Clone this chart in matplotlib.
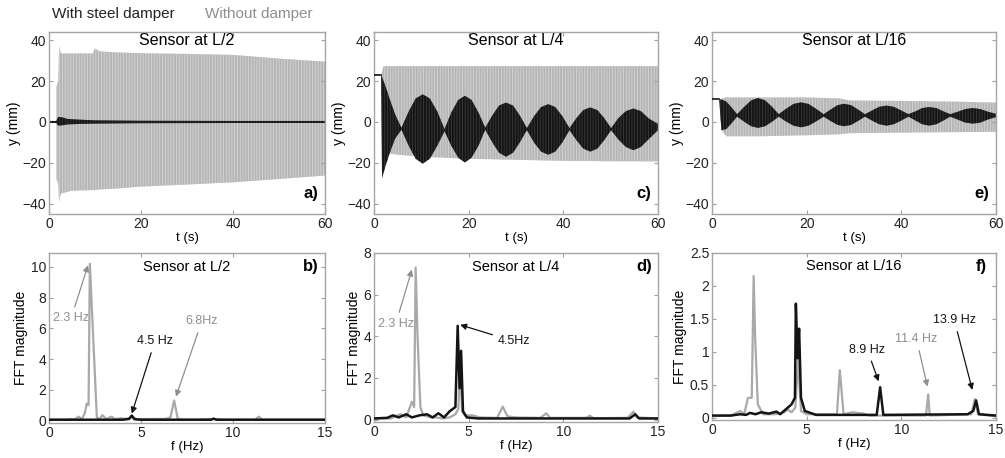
import matplotlib
matplotlib.use("Agg")
import matplotlib.pyplot as plt

plt.rcParams['font.family'] = ['Liberation Sans', 'DejaVu Sans']
plt.rcParams['hatch.linewidth'] = 0.6

GRAY = '#a9a9a9'
GRAY_TXT = '#8f8f8f'
BLACK = '#141414'

# ---- time-domain envelopes (t in s, y in mm) ----
# a) sensor at L/2
a_gray_t = [1.6, 1.6, 2.0, 2.2, 2.6, 5, 9.5, 10, 11, 15, 20, 30, 40, 50, 60]
a_gray_hi = [0, 17, 20, 37, 33.5, 33.5, 33.5, 36, 34.5, 34, 33.6, 33.3, 32.8, 31, 29.5]
a_gray_lo = [0, -28, -30, -39, -35, -33.6, -33.3, -33.3, -33, -32.5, -31.6, -30.6, -29.5, -27.9, -26.2]
a_blk_t = [0, 1.6, 2.0, 3.0, 4.0, 6, 10, 20, 40, 60]
a_blk_hi = [0.5, 0.5, 2.5, 2.2, 1.5, 1.2, 0.8, 0.6, 0.5, 0.5]
a_blk_lo = [-0.5, -0.5, -1.8, -1.6, -1.2, -1.0, -0.8, -0.6, -0.5, -0.5]

# c) sensor at L/4
c_start_t = [0, 1.5]
c_start_y = [23, 23]
c_gray_t = [1.5, 2.0, 5, 10, 20, 30, 40, 50, 60]
c_gray_hi = [23, 27.3, 27.3, 27.3, 27.3, 27.3, 27.3, 27.3, 27.3]
c_gray_lo = [23, -15, -16, -17, -18, -18.5, -19, -19.2, -19.3]
c_blk_t = [1.5, 1.7, 2.5, 3.5, 4.5, 5.8,
           7.3, 8.8, 10.3, 11.8, 13.4, 14.9,
           16.3, 17.8, 19.2, 20.6, 22.1, 23.5,
           25.0, 26.4, 27.9, 29.4, 30.8, 32.3,
           33.8, 35.3, 36.8, 38.3, 39.8, 41.3,
           42.8, 44.2, 45.7, 47.2, 48.6, 50.1,
           51.6, 53.2, 54.8, 56.4, 58.0, 60.0]
c_blk_hi = [23, 22, 17, 10, 3.5, -2.8,
            5, 11.5, 13.5, 11.5, 5, -3.5,
            4.5, 10.8, 12.8, 10.8, 4.5, -2.8,
            3.2, 8, 9.5, 8, 3.2, -3,
            2.8, 7.3, 8.7, 7.3, 2.8, -3,
            2, 5.8, 7.1, 5.8, 2, -3,
            1.8, 5.3, 6.6, 5.3, 1.8, -1]
c_blk_lo = [23, -27.5, -21, -14, -8, -3.8,
            -11.5, -18, -20.4, -18, -11.5, -4.5,
            -11.5, -17.5, -19.8, -17.5, -11.5, -3.8,
            -10, -15, -17, -15, -10, -4,
            -10, -14.5, -16, -14.5, -10, -4,
            -9, -13, -14.5, -13, -9, -4,
            -8.5, -12.2, -13.8, -12.2, -8.5, -4]

# e) sensor at L/16
e_start_t = [0, 1.5]
e_start_y = [11, 11]
e_gray_t = [2, 3, 10, 20, 27, 29, 40, 50, 60]
e_gray_hi = [11.5, 12, 12, 12, 11.5, 10.5, 10.3, 10, 9.5]
e_gray_lo = [-4, -7, -7, -6.5, -6, -5.5, -5.2, -5, -4.8]
e_blk_t = [1.5, 2.0, 3.0, 4.0, 5.3,
           6.8, 8.3, 9.7, 11.2, 12.7, 14.1,
           15.6, 17.2, 18.8, 20.4, 22.0, 23.6,
           25.0, 26.5, 27.9, 29.4, 30.9, 32.3,
           33.8, 35.3, 36.9, 38.4, 40.0, 41.5,
           43.0, 44.4, 45.9, 47.4, 48.9, 50.3,
           51.9, 53.5, 55.1, 56.7, 58.3, 60.0]
e_blk_hi = [11, 11, 10, 7.5, 3.8,
            7.4, 10.6, 11.7, 10.6, 7.4, 3.8,
            6.4, 8.8, 9.6, 8.8, 6.4, 3.8,
            6.0, 8.2, 8.9, 8.2, 6.0, 3.8,
            5.6, 7.4, 8.0, 7.4, 5.6, 3.8,
            5.2, 6.8, 7.3, 6.8, 5.2, 3.8,
            5.0, 6.3, 6.8, 6.3, 5.0, 4.0]
e_blk_lo = [11, -4, -3.5, -1, 2.6,
            0.15, -2.1, -2.9, -2.1, 0.15, 2.6,
            0.3, -1.8, -2.6, -1.8, 0.3, 2.6,
            0.55, -1.4, -2.1, -1.4, 0.55, 2.6,
            0.7, -1.1, -1.8, -1.1, 0.7, 2.6,
            0.7, -1.1, -1.8, -1.1, 0.7, 2.6,
            1.2, -0.3, -0.8, -0.3, 1.2, 2.4]

# ---- FFT spectra (f in Hz) ----
b_gray_f = [0, 1.0, 1.2, 1.4, 1.6, 1.8, 1.95, 2.05, 2.15, 2.22, 2.6, 2.75, 2.9, 3.1, 3.4,
            3.6, 3.9, 4.2, 4.5, 4.8, 5.5, 6.3, 6.6, 6.8, 7.0, 7.3, 8.0, 8.9, 9.5, 11.2,
            11.4, 11.6, 13, 15]
b_gray_m = [0.05, 0.05, 0.1, 0.05, 0.25, 0.1, 0.5, 1.1, 1.0, 10.2, 0.2, 0.1, 0.35, 0.1, 0.25,
            0.08, 0.15, 0.1, 0.2, 0.08, 0.1, 0.1, 0.2, 1.3, 0.1, 0.05, 0.05, 0.1, 0.05, 0.05,
            0.25, 0.05, 0.05, 0.05]
b_blk_f = [0, 4.0, 4.35, 4.5, 4.65, 5.0, 8.8, 8.95, 9.1, 15]
b_blk_m = [0.05, 0.05, 0.1, 0.32, 0.08, 0.05, 0.05, 0.12, 0.05, 0.05]

d_gray_f = [0, 0.9, 1.1, 1.4, 1.7, 2.0, 2.12, 2.2, 2.3, 2.45, 2.6, 2.8, 3.0, 3.3, 3.6,
            4.0, 4.3, 4.45, 4.55, 4.65, 4.8, 5.2, 5.6, 6.5, 6.8, 7.05, 7.5, 8.8, 9.1, 9.3,
            11.2, 11.4, 11.6, 13.4, 13.7, 13.9, 15]
d_gray_m = [0.05, 0.05, 0.15, 0.25, 0.1, 0.85, 0.6, 7.3, 4.0, 0.6, 0.2, 0.15, 0.1, 0.1, 0.05,
            0.1, 0.25, 0.5, 2.5, 0.4, 0.2, 0.2, 0.1, 0.08, 0.62, 0.15, 0.1, 0.08, 0.3, 0.08,
            0.08, 0.18, 0.06, 0.08, 0.38, 0.1, 0.05]
d_blk_f = [0, 0.7, 1.0, 1.3, 1.7, 2.0, 2.4, 2.8, 3.1, 3.4, 3.7, 4.0, 4.3, 4.42, 4.52,
           4.6, 4.7, 4.9, 5.5, 13.5, 13.8, 14.0, 15]
d_blk_m = [0.05, 0.08, 0.2, 0.1, 0.25, 0.1, 0.2, 0.25, 0.1, 0.3, 0.1, 0.4, 0.6, 4.5, 1.5,
           3.3, 0.4, 0.1, 0.05, 0.05, 0.25, 0.05, 0.05]

f_gray_f = [0, 1.0, 1.5, 1.7, 1.9, 2.1, 2.2, 2.28, 2.42, 2.7, 3.3, 3.8, 4.0, 4.2, 4.4,
            4.55, 4.7, 5.0, 6.6, 6.75, 6.95, 7.4, 8.0, 8.3, 11.3, 11.42, 11.5, 13.7, 13.88, 14.05,
            15]
f_gray_m = [0.02, 0.03, 0.1, 0.05, 0.3, 0.3, 2.15, 1.2, 0.2, 0.05, 0.05, 0.08, 0.12, 0.08, 0.15,
            0.88, 0.1, 0.05, 0.05, 0.72, 0.05, 0.08, 0.06, 0.03, 0.03, 0.35, 0.03, 0.05, 0.28, 0.05,
            0.02]
f_blk_f = [0, 1.0, 1.5, 1.8, 2.0, 2.3, 2.6, 3.0, 3.4, 3.6, 3.8, 4.2, 4.38, 4.43, 4.52,
           4.6, 4.7, 4.9, 5.5, 8.7, 8.88, 9.05, 13.5, 13.8, 13.95, 14.1, 15]
f_blk_m = [0.03, 0.03, 0.05, 0.04, 0.07, 0.05, 0.08, 0.06, 0.09, 0.05, 0.1, 0.2, 0.3, 1.73, 0.9,
           1.35, 0.3, 0.1, 0.04, 0.04, 0.46, 0.04, 0.05, 0.1, 0.26, 0.05, 0.03]

titles = ['Sensor at L/2', 'Sensor at L/4', 'Sensor at L/16']
W, H = 1005, 458


def px_axes(fig, left, right, top, bottom):
    return fig.add_axes([left / W, 1 - bottom / H, (right - left) / W, (bottom - top) / H])


def style(ax):
    for s in ax.spines.values():
        s.set_color('#a5a5a5')
        s.set_linewidth(1.0)
    ax.tick_params(direction='in', length=3, width=0.8, color='#a0a0a0',
                   labelcolor='#222222', labelsize=10, pad=2,
                   top=True, right=True)


def time_panel(ax, title, tag):
    ax.set_xlim(0, 60)
    ax.set_ylim(-45, 44)
    ax.set_xticks([0, 20, 40, 60])
    ax.set_yticks([-40, -20, 0, 20, 40])
    ax.set_xlabel('t (s)', fontsize=9.5, labelpad=1)
    ax.set_ylabel('y (mm)', fontsize=10, labelpad=1)
    ax.text(0.5, 0.955, title, transform=ax.transAxes, ha='center', va='center', fontsize=11.5)
    ax.text(0.95, 0.115, tag, transform=ax.transAxes, ha='center', va='center',
            fontsize=12, fontweight='bold')
    style(ax)


def fft_panel(ax, title, tag, ymax, yticks):
    ax.set_xlim(0, 15)
    ax.set_ylim(-0.015 * ymax, ymax)
    ax.set_xticks([0, 5, 10, 15])
    ax.set_yticks(yticks)
    ax.set_xlabel('f (Hz)', fontsize=9.5, labelpad=1)
    ax.set_ylabel('FFT magnitude', fontsize=10, labelpad=2)
    ax.text(0.5, 0.92, title, transform=ax.transAxes, ha='center', va='center', fontsize=10.5)
    ax.text(0.95, 0.92, tag, transform=ax.transAxes, ha='center', va='center',
            fontsize=12, fontweight='bold')
    style(ax)


def gray_band(ax, t, hi, lo):
    ax.fill_between(t, lo, hi, facecolor='#b5b5b5', edgecolor='#d6d6d6',
                    hatch='||||||', linewidth=0, zorder=1)


def black_band(ax, t, hi, lo):
    ax.fill_between(t, lo, hi, facecolor=BLACK, edgecolor='#3a3a3a',
                    hatch='||||||', linewidth=0, zorder=2)


def note(ax, txt, xy, xytext, color):
    ax.annotate(txt, xy=xy, xytext=xytext, ha='center', va='center', fontsize=9,
                color=color, zorder=5,
                arrowprops=dict(arrowstyle='-|>', color=color, lw=0.9,
                                mutation_scale=9, shrinkA=2, shrinkB=0))


fig = plt.figure(figsize=(W / 100, H / 100), dpi=100)

ax_a = px_axes(fig, 49, 325, 32, 214)
ax_c = px_axes(fig, 374, 658, 32, 214)
ax_e = px_axes(fig, 712, 996, 32, 214)
ax_b = px_axes(fig, 49, 325, 253, 423)
ax_d = px_axes(fig, 374, 658, 253, 422)
ax_f = px_axes(fig, 712, 996, 253, 420)

# top row: time histories
gray_band(ax_a, a_gray_t, a_gray_hi, a_gray_lo)
black_band(ax_a, a_blk_t, a_blk_hi, a_blk_lo)
time_panel(ax_a, titles[0], 'a)')

gray_band(ax_c, c_gray_t, c_gray_hi, c_gray_lo)
black_band(ax_c, c_blk_t, c_blk_hi, c_blk_lo)
ax_c.plot(c_start_t, c_start_y, color=BLACK, lw=1.2, zorder=3)
time_panel(ax_c, titles[1], 'c)')

gray_band(ax_e, e_gray_t, e_gray_hi, e_gray_lo)
black_band(ax_e, e_blk_t, e_blk_hi, e_blk_lo)
ax_e.plot(e_start_t, e_start_y, color=BLACK, lw=1.2, zorder=3)
time_panel(ax_e, titles[2], 'e)')

# bottom row: spectra
ax_b.plot(b_gray_f, b_gray_m, color=GRAY, lw=1.6, zorder=2)
ax_b.plot(b_blk_f, b_blk_m, color=BLACK, lw=1.8, zorder=3)
fft_panel(ax_b, titles[0], 'b)', 10.9, [0, 2, 4, 6, 8, 10])
note(ax_b, '2.3 Hz', (2.12, 10.1), (1.2, 6.65), GRAY_TXT)
note(ax_b, '4.5 Hz', (4.5, 0.45), (5.75, 5.15), BLACK)
note(ax_b, '6.8Hz', (6.9, 1.55), (8.3, 6.45), GRAY_TXT)

ax_d.plot(d_gray_f, d_gray_m, color=GRAY, lw=1.6, zorder=2)
ax_d.plot(d_blk_f, d_blk_m, color=BLACK, lw=1.8, zorder=3)
fft_panel(ax_d, titles[1], 'd)', 8, [0, 2, 4, 6, 8])
note(ax_d, '2.3 Hz', (2.0, 7.2), (1.15, 4.6), GRAY_TXT)
note(ax_d, '4.5Hz', (4.55, 4.55), (7.4, 3.75), BLACK)

ax_f.plot(f_gray_f, f_gray_m, color=GRAY, lw=1.6, zorder=2)
ax_f.plot(f_blk_f, f_blk_m, color=BLACK, lw=1.8, zorder=3)
fft_panel(ax_f, titles[2], 'f)', 2.5, [0, 0.5, 1, 1.5, 2, 2.5])
ax_f.set_yticklabels(['0', '0.5', '1', '1.5', '2', '2.5'])
note(ax_f, '8.9 Hz', (8.8, 0.55), (8.2, 1.03), BLACK)
note(ax_f, '11.4 Hz', (11.38, 0.47), (10.8, 1.19), GRAY_TXT)
note(ax_f, '13.9 Hz', (13.75, 0.42), (12.8, 1.48), BLACK)

# series key above the first panel
fig.text(52 / W, 1 - 14 / H, 'With steel damper', fontsize=11, color='#222222', va='center')
fig.text(205 / W, 1 - 14 / H, 'Without damper', fontsize=11, color=GRAY_TXT, va='center')

fig.savefig('out.png', dpi=100)
